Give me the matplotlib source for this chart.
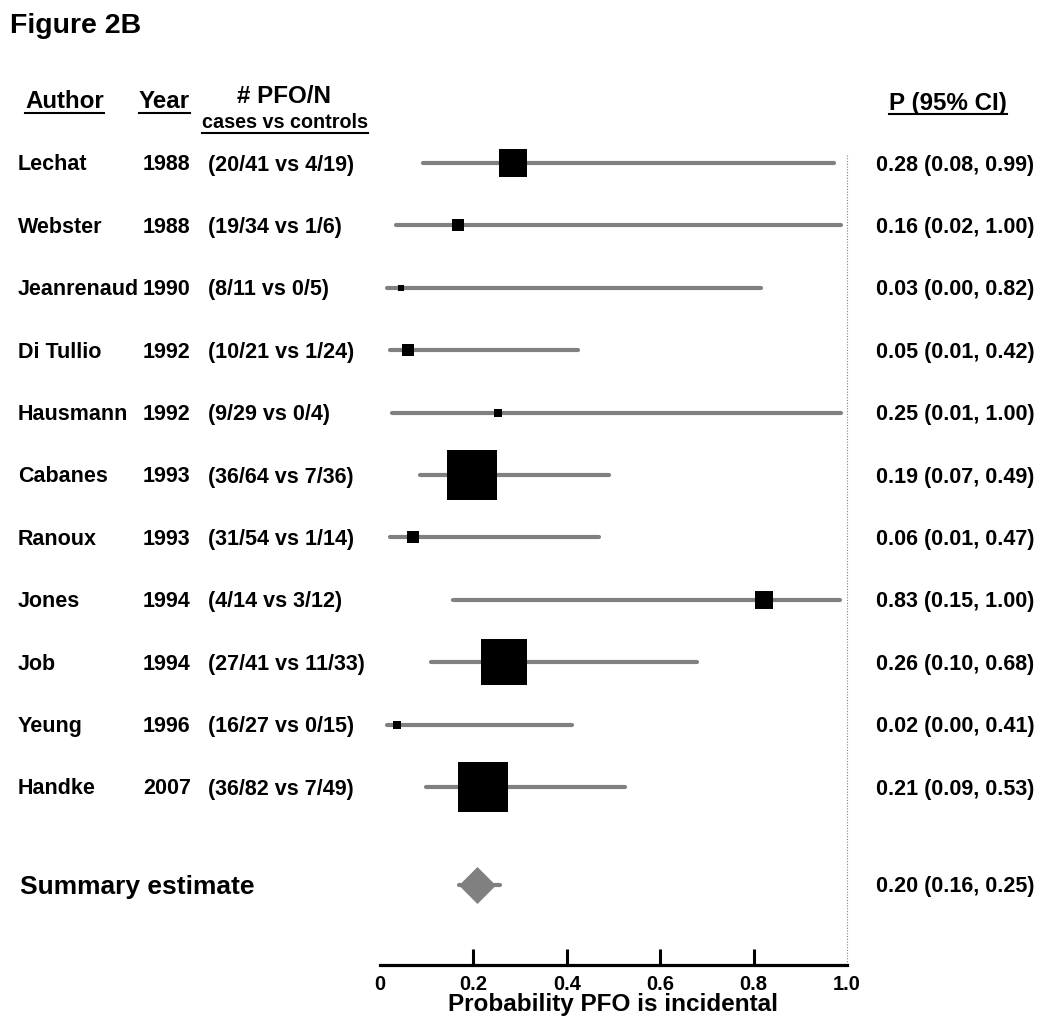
import matplotlib
matplotlib.use('Agg')
import matplotlib.pyplot as plt
import numpy as np
from matplotlib.transforms import blended_transform_factory, ScaledTranslation
from matplotlib.lines import Line2D

plt.rcParams['font.family'] = ['Liberation Sans', 'DejaVu Sans']
plt.rcParams['font.weight'] = 'bold'

# study table
authors = ['Lechat', 'Webster', 'Jeanrenaud', 'Di Tullio', 'Hausmann', 'Cabanes',
           'Ranoux', 'Jones', 'Job', 'Yeung', 'Handke']
years = ['1988', '1988', '1990', '1992', '1992', '1993', '1993', '1994', '1994', '1996', '2007']
counts = ['(20/41 vs 4/19)', '(19/34 vs 1/6)', '(8/11 vs 0/5)', '(10/21 vs 1/24)',
          '(9/29 vs 0/4)', '(36/64 vs 7/36)', '(31/54 vs 1/14)', '(4/14 vs 3/12)',
          '(27/41 vs 11/33)', '(16/27 vs 0/15)', '(36/82 vs 7/49)']
ci_labels = ['0.28 (0.08, 0.99)', '0.16 (0.02, 1.00)', '0.03 (0.00, 0.82)', '0.05 (0.01, 0.42)',
             '0.25 (0.01, 1.00)', '0.19 (0.07, 0.49)', '0.06 (0.01, 0.47)', '0.83 (0.15, 1.00)',
             '0.26 (0.10, 0.68)', '0.02 (0.00, 0.41)', '0.21 (0.09, 0.53)']

# values as drawn in the plot
p = [0.285, 0.168, 0.046, 0.061, 0.253, 0.196, 0.070, 0.823, 0.266, 0.036, 0.220]
lo = [0.092, 0.034, 0.015, 0.021, 0.026, 0.085, 0.021, 0.157, 0.109, 0.015, 0.099]
hi = [0.973, 0.987, 0.815, 0.424, 0.987, 0.490, 0.469, 0.985, 0.679, 0.411, 0.525]
weights = [8.5, 1.4, 0.4, 1.7, 0.7, 27.8, 1.7, 3.4, 24.5, 0.9, 29.0]  # % weight

summary_label = '0.20 (0.16, 0.25)'
summary_p = 0.208
summary_lo = 0.169
summary_hi = 0.257

W, H = 1050, 1021
fig = plt.figure(figsize=(W / 100, H / 100), dpi=100)

# axes: x 0..1 maps to px 380..847, rows spaced 62.4 px starting at y=163
row_px = 62.4
top_px, bot_px = 163 - 1.5 * row_px, 965
ax = fig.add_axes([380 / W, 1 - bot_px / H, 467 / W, (bot_px - top_px) / H])
n = len(authors)
ymax = (bot_px - 163) / row_px
ax.set_ylim(ymax, -1.5)
ax.set_xlim(0, 1)

grey = '#808080'
rows = np.arange(n)
for i in rows:
    ax.plot([lo[i], hi[i]], [i, i], color=grey, lw=3, solid_capstyle='round', zorder=2)
    side_px = 9.3 * np.sqrt(weights[i])
    ax.plot(p[i], i, marker='s', color='black', markersize=side_px * 0.72,
            markeredgewidth=0, zorder=3)

ysum = n + 0.57
ax.plot([summary_lo, summary_hi], [ysum, ysum], color=grey, lw=3, solid_capstyle='round', zorder=2)
ax.plot(summary_p, ysum, marker=(4, 0, 0), color=grey, markersize=37 * 0.72,
        markeredgewidth=0, zorder=3)

# reference line at 1.0
ax.plot([1, 1], [-0.13, ymax], color=grey, lw=0.8, linestyle=(0, (1, 1.5)), clip_on=False)

for s in ['top', 'left', 'right']:
    ax.spines[s].set_visible(False)
ax.spines['bottom'].set_linewidth(2.3)
ax.set_yticks([])
ax.set_xticks([0, 0.2, 0.4, 0.6, 0.8, 1.0])
ax.set_xticklabels(['0', '0.2', '0.4', '0.6', '0.8', '1.0'])
ax.tick_params(axis='x', direction='in', length=11.5, width=2.2, labelsize=14.5, pad=7)
tl = ax.xaxis.get_major_ticks()
tl[0].tick1line.set_visible(False)
tl[-1].tick1line.set_visible(False)

# table columns (nudged 2 px down to line up with the marks)
tr = blended_transform_factory(fig.transFigure, ax.transData) + \
    ScaledTranslation(0, -2 / 100, fig.dpi_scale_trans)
fs = 15.5
for i in rows:
    ax.text(18 / W, i, authors[i], transform=tr, fontsize=fs, va='center', ha='left')
    ax.text(143 / W, i, years[i], transform=tr, fontsize=fs, va='center', ha='left')
    ax.text(208 / W, i, counts[i], transform=tr, fontsize=fs, va='center', ha='left')
    ax.text(876 / W, i, ci_labels[i], transform=tr, fontsize=fs, va='center', ha='left')
ax.text(20 / W, ysum, 'Summary estimate', transform=tr, fontsize=19, va='center', ha='left')
ax.text(876 / W, ysum, summary_label, transform=tr, fontsize=fs, va='center', ha='left')


def ftext(x, y, s, size, ha='left'):
    return fig.text(x / W, 1 - y / H, s, fontsize=size, ha=ha, va='baseline')


ftext(10, 33, 'Figure 2B', 20.5)
ftext(613.5, 1011, 'Probability PFO is incidental', 17.5, ha='center')
headers = [
    (ftext(25, 108, 'Author', 17.4), 113),
    (ftext(139, 108, 'Year', 17.4), 113),
    (ftext(889, 110, 'P (95% CI)', 17.4), 114),
    (ftext(202, 128, 'cases vs controls', 14.2), 133),
]
ftext(284, 103, '# PFO/N', 17.4, ha='center')

fig.canvas.draw()
r = fig.canvas.get_renderer()
for t, uy in headers:
    bb = t.get_window_extent(r)
    fig.add_artist(Line2D([bb.x0 / W, bb.x1 / W], [1 - uy / H, 1 - uy / H],
                          transform=fig.transFigure, color='black', lw=1.5))

fig.savefig('out.png', dpi=100)
